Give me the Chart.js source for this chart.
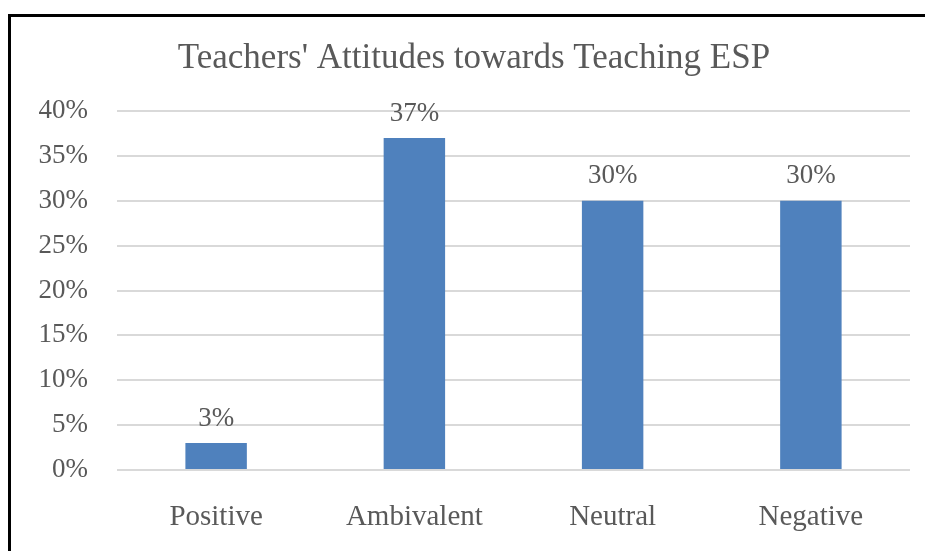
<!DOCTYPE html>
<html>
<head>
    <title>Teachers' Attitudes towards Teaching ESP</title>
    <script src="https://cdn.jsdelivr.net/npm/chart.js"></script>
    <style>
        body {
            margin: 0;
            background-color: #ffffff;
        }
        .frame {
            position: absolute;
            left: 8px;
            top: 14px;
            width: 930px;
            height: 560px;
            border-left: 3px solid #000000;
            border-top: 3px solid #000000;
        }
        #chart {
            position: absolute;
            left: 0;
            top: 0;
        }
    </style>
</head>
<body>
    <div class="frame"></div>
    <canvas id="chart" width="925" height="551"></canvas>

    <script>
        // chart data
        const categories = ['Positive', 'Ambivalent', 'Neutral', 'Negative'];
        const attitudeShare = [3, 37, 30, 30];
        const yTicks = [0, 5, 10, 15, 20, 25, 30, 35, 40];

        const textColor = '#595959';
        const serif = "'Liberation Serif', 'Times New Roman', serif";

        // draws the value above each bar
        const valueLabels = {
            id: 'valueLabels',
            afterDatasetsDraw(chart) {
                const ctx = chart.ctx;
                const meta = chart.getDatasetMeta(0);
                ctx.save();
                ctx.font = '27px ' + serif;
                ctx.fillStyle = textColor;
                ctx.textAlign = 'center';
                ctx.textBaseline = 'bottom';
                meta.data.forEach((bar, i) => {
                    ctx.fillText(attitudeShare[i] + '%', bar.x, bar.y - 11);
                });
                ctx.restore();
            }
        };

        const ctx = document.getElementById('chart').getContext('2d');
        const chart = new Chart(ctx, {
            type: 'bar',
            data: {
                labels: categories,
                datasets: [{
                    data: attitudeShare,
                    backgroundColor: '#4F81BD',
                    borderWidth: 0,
                    barPercentage: 0.31,
                    categoryPercentage: 1.0
                }]
            },
            options: {
                responsive: false,
                animation: false,
                layout: {
                    // uneven left/right so the title centre sits where it does in the original
                    padding: { left: 38, right: 15, top: 0, bottom: 0 }
                },
                scales: {
                    x: {
                        afterFit(scale) {
                            scale.height = 81;
                        },
                        grid: { display: false, drawTicks: false },
                        border: { display: false },
                        ticks: {
                            color: textColor,
                            font: { family: serif, size: 29 },
                            padding: 30
                        }
                    },
                    y: {
                        min: 0,
                        max: 40,
                        afterBuildTicks(scale) {
                            scale.ticks = yTicks.map(v => ({ value: v }));
                        },
                        afterFit(scale) {
                            scale.width = 79;
                        },
                        grid: { color: '#d9d9d9', lineWidth: 2, drawTicks: false },
                        border: { display: false },
                        ticks: {
                            color: textColor,
                            font: { family: serif, size: 27 },
                            padding: 29,
                            callback: v => v + '%'
                        }
                    }
                },
                plugins: {
                    legend: { display: false },
                    tooltip: { enabled: false },
                    title: {
                        display: true,
                        text: "Teachers' Attitudes towards Teaching ESP",
                        color: textColor,
                        font: { family: serif, size: 35, weight: 'normal' },
                        padding: { top: 38, bottom: 31 }
                    }
                }
            },
            plugins: [valueLabels]
        });
    </script>
</body>
</html>
